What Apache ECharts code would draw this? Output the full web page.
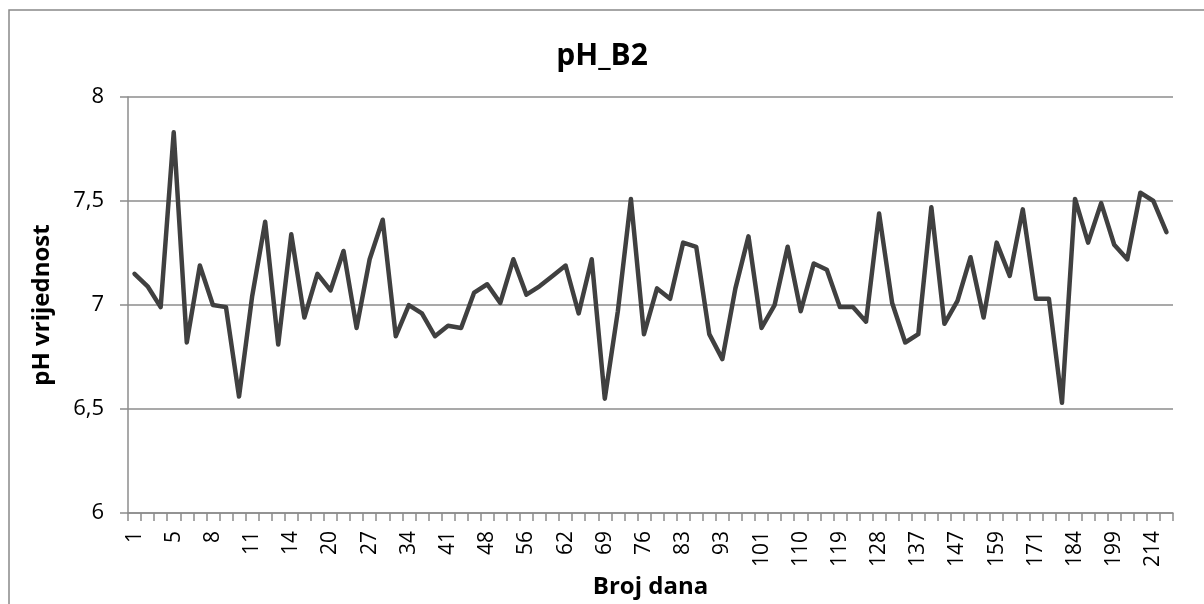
<!DOCTYPE html>
<html>
<head>
<meta charset="UTF-8" />
<title>pH_B2</title>
<script src="https://cdn.jsdelivr.net/npm/echarts@6/dist/echarts.min.js"></script>
<style type="text/css">
html, body { margin:0; padding:0; background:#fff; }
#main { width:1204px; height:604px; }
</style>
</head>
<body>
<div id="main"></div>
<script type="text/javascript">
// dani (kategorije) - svaki treci je prikazan na osi
var days = [
  1, 3, 4, 5, 6, 7, 8, 9, 10, 11,
  12, 13, 14, 16, 18, 20, 22, 25, 27, 29,
  31, 34, 36, 38, 41, 43, 45, 48, 51, 53,
  56, 58, 60, 62, 64, 66, 69, 71, 73, 76,
  78, 80, 83, 86, 90, 93, 96, 98, 101, 104,
  107, 110, 113, 116, 119, 122, 125, 128, 131, 134,
  137, 140, 143, 147, 151, 155, 159, 163, 167, 171,
  175, 180, 184, 189, 194, 199, 204, 209, 214, 219
];

// pH vrijednosti
var phValues = [
  7.15, 7.09, 6.99, 7.83, 6.82, 7.19, 7.00, 6.99, 6.56, 7.04,
  7.40, 6.81, 7.34, 6.94, 7.15, 7.07, 7.26, 6.89, 7.22, 7.41,
  6.85, 7.00, 6.96, 6.85, 6.90, 6.89, 7.06, 7.10, 7.01, 7.22,
  7.05, 7.09, 7.14, 7.19, 6.96, 7.22, 6.55, 6.97, 7.51, 6.86,
  7.08, 7.03, 7.30, 7.28, 6.86, 6.74, 7.08, 7.33, 6.89, 7.00,
  7.28, 6.97, 7.20, 7.17, 6.99, 6.99, 6.92, 7.44, 7.01, 6.82,
  6.86, 7.47, 6.91, 7.02, 7.23, 6.94, 7.30, 7.14, 7.46, 7.03,
  7.03, 6.53, 7.51, 7.30, 7.49, 7.29, 7.22, 7.54, 7.50, 7.35
];

var yTicks = [6, 6.5, 7, 7.5, 8];

var gridColor = '#8c8c8c';
var font = '"Open Sans", "DejaVu Sans", sans-serif';

var myChart = echarts.init(document.getElementById('main'));

myChart.setOption({
    animation: false,
    backgroundColor: '#ffffff',
    graphic: [{
        type: 'rect',
        shape: { x: 9, y: 10, width: 1300, height: 700 },
        style: { fill: 'none', stroke: '#898989', lineWidth: 1.5 },
        silent: true
    }],
    title: {
        text: 'pH_B2',
        left: 'center',
        top: 36,
        textStyle: { fontFamily: font, fontSize: 30, fontWeight: 'bold', color: '#000' }
    },
    grid: {
        left: 128,
        right: 31,
        top: 97,
        bottom: 89,
        containLabel: false
    },
    xAxis: {
        type: 'category',
        data: days,
        boundaryGap: true,
        name: 'Broj dana',
        nameLocation: 'middle',
        nameGap: 60,
        nameTextStyle: { fontFamily: font, fontSize: 24, fontWeight: 'bold', color: '#000' },
        axisLine: { lineStyle: { color: gridColor, width: 1.5 } },
        axisTick: { show: true, interval: 0, length: 8, lineStyle: { color: gridColor, width: 1.5 } },
        axisLabel: {
            interval: 2,
            rotate: 90,
            margin: 18,
            fontFamily: font,
            fontSize: 21,
            color: '#000'
        },
        splitLine: { show: false }
    },
    yAxis: {
        type: 'value',
        min: yTicks[0],
        max: yTicks[yTicks.length - 1],
        interval: 0.5,
        name: 'pH vrijednost',
        nameLocation: 'middle',
        nameGap: 74,
        nameTextStyle: { fontFamily: font, fontSize: 24, fontWeight: 'bold', color: '#000' },
        axisLine: { show: true, lineStyle: { color: gridColor, width: 1.5 } },
        axisTick: { show: true, length: 8, lineStyle: { color: gridColor, width: 1.5 } },
        axisLabel: {
            margin: 24,
            fontFamily: font,
            fontSize: 22,
            color: '#000',
            formatter: function (v) { return String(v).replace('.', ','); }
        },
        splitLine: { show: true, lineStyle: { color: gridColor, width: 1.5 } }
    },
    series: [{
        name: 'pH_B2',
        type: 'line',
        data: phValues,
        symbol: 'none',
        smooth: false,
        lineStyle: { color: '#404040', width: 4.5, cap: 'round', join: 'round' }
    }]
});
</script>
</body>
</html>
